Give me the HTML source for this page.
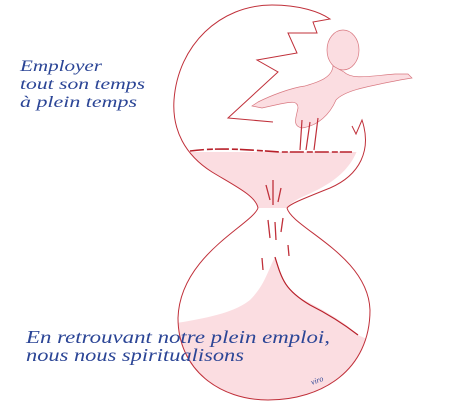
<!DOCTYPE html>
<html><head><meta charset="utf-8"><style>
html,body{margin:0;padding:0;background:#fff;width:450px;height:420px;overflow:hidden}
svg{display:block}
.t{font-family:"Liberation Serif",serif;font-style:italic;fill:#2b4596}
</style></head><body>
<svg width="450" height="420" viewBox="0 0 450 420">
 <defs>
  <clipPath id="lowclip"><path d="M258,208 C252,225 180,255 178,318 C178,370 220,400 268,400 C322,400 370,370 370,310 C368,255 292,228 287,208 Z"/></clipPath>
  <clipPath id="upclip"><path d="M258,208 C256,196 235,186 212,172 C185,155 172,130 174,100 C178,45 220,5 272,5 C330,5 372,60 362,130 C358,170 330,185 300,198 C292,202 288,206 287,208 Z"/></clipPath>
 </defs>
 <g>
  <rect x="170" y="152" width="200" height="56" fill="#fbdde1" clip-path="url(#upclip)"/>
  <path d="M258,208 C256,196 235,186 212,172 C185,155 172,130 174,100 C178,45 220,5 272,5 C300,5 320,12 330,19 L313,22 L317,33 L288,33 L297,53 L257,60 L278,72 L228,118 L273,122"
        fill="none" stroke="#c0303a" stroke-width="1"/>
  <path d="M352,126 L356,134 L362,120 C372,150 360,175 330,188 C300,200 290,204 287,208" fill="none" stroke="#c0303a" stroke-width="1"/>
  <path d="M190,151 C220,147 250,150 280,152 L352,152" fill="none" stroke="#b8202a" stroke-width="1.6" stroke-dasharray="14 3 6 2"/>
 </g>
 <g>
  <ellipse cx="343" cy="50" rx="16" ry="20" fill="#fbdde1" stroke="#d87880" stroke-width="0.7"/>
  <path d="M333,66 C332,78 318,82 305,86 C290,88 270,96 258,102 L252,106 L262,108 L280,104 C290,102 298,100 298,108 C296,118 292,126 302,128 C318,126 330,114 336,100 C345,90 370,86 400,80 L412,78 L408,74 L395,74 C370,76 352,80 344,72 Z" fill="#fbdde1" stroke="#d87880" stroke-width="0.7"/>
  <path d="M302,120 L300,150 M310,122 L306,150 M318,118 L314,150" stroke="#c0303a" stroke-width="1.2" fill="none"/>
 </g>
 <g>
  <path d="M266,185 L270,200 M273,180 L273,205 M281,188 L278,202 M268,220 L270,238 M275,222 L276,240 M283,218 L281,232 M262,258 L263,270 M288,245 L289,256" stroke="#c0303a" stroke-width="1.3" fill="none"/>
 </g>
 <g>
  <path d="M170,324 C210,318 235,312 250,300 C265,285 268,270 275,257 C280,275 283,288 300,298 C320,308 345,322 358,335 L380,345 L380,410 L170,410 Z" fill="#fbdde1" clip-path="url(#lowclip)"/>
  <path d="M258,208 C252,225 180,255 178,318 C178,370 220,400 268,400 C322,400 370,370 370,310 C368,255 292,228 287,208" fill="none" stroke="#c0303a" stroke-width="1"/>
  <path d="M275,257 C282,280 285,290 310,305 C330,315 345,325 358,335" fill="none" stroke="#b8202a" stroke-width="1.2"/>
 </g>
 <text class="t" x="20" y="71" font-size="16" textLength="82" lengthAdjust="spacingAndGlyphs">Employer</text>
 <text class="t" x="20" y="89" font-size="16" textLength="125" lengthAdjust="spacingAndGlyphs">tout son temps</text>
 <text class="t" x="20" y="107" font-size="16" textLength="117" lengthAdjust="spacingAndGlyphs">à plein temps</text>
 <text class="t" x="26" y="343" font-size="18" textLength="304" lengthAdjust="spacingAndGlyphs">En retrouvant notre plein emploi,</text>
 <text class="t" x="26" y="361" font-size="18" textLength="218" lengthAdjust="spacingAndGlyphs">nous nous spiritualisons</text>
 <text class="t" x="312" y="385" font-size="8" transform="rotate(-20 312 385)">viro</text>
</svg>
</body></html>
